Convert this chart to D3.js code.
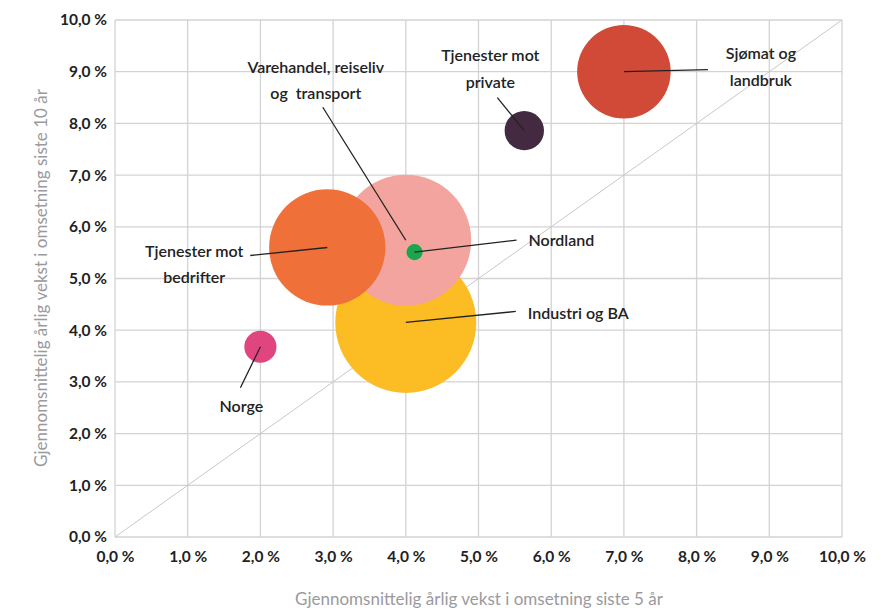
<!DOCTYPE html>
<html>
<head>
<meta charset="utf-8">
<script src="https://cdn.jsdelivr.net/npm/d3@7"></script>
<style>
  body { margin: 0; background: #fff; }
  text { font-family: Lato, "Open Sans", sans-serif; }
</style>
</head>
<body>
<script>
// bubble data
var names = ["Industri og BA", "Varehandel, reiseliv og transport", "Tjenester mot bedrifter",
             "Sjømat og landbruk", "Tjenester mot private", "Norge", "Nordland"];
var growth5 = [4.0, 4.0, 2.92, 7.0, 5.63, 2.0, 4.12];   // x, % siste 5 år
var growth10 = [4.15, 5.74, 5.6, 9.0, 7.86, 3.68, 5.51]; // y, % siste 10 år
var sizes = [100, 86, 68, 44, 7.8, 5.2, 1.3];            // omsetning, relative
var colors = ["#fbbc24", "#f4a49e", "#f0703a", "#d04a37", "#432a40", "#e0457f", "#1aa64f"];
var ticks = [0, 1, 2, 3, 4, 5, 6, 7, 8, 9, 10];

// label lines and text, offsets from bubble centre in px
var labelLines = [
  {lines: ["Industri og BA"], line: [110, -11], text: [122, -9], anchor: "start"},
  {lines: ["Varehandel, reiseliv", "og  transport"], line: [-83, -133], text: [-90, -173], anchor: "middle"},
  {lines: ["Tjenester mot", "bedrifter"], line: [-77, 8], text: [-133, 4], anchor: "middle"},
  {lines: ["Sjømat og", "landbruk"], line: [84, -2], text: [137, -18], anchor: "middle"},
  {lines: ["Tjenester mot", "private"], line: [-27, -33], text: [-34, -75], anchor: "middle"},
  {lines: ["Norge"], line: [-20, 41], text: [-19, 60], anchor: "middle"},
  {lines: ["Nordland"], line: [102, -12], text: [114, -12], anchor: "start"}
];

var W = 890, H = 611;
var margin = {top: 20, right: 48, bottom: 74, left: 115};

var svg = d3.select("body").append("svg").attr("width", W).attr("height", H);

var x = d3.scaleLinear().domain([0, 10]).range([margin.left, W - margin.right]);
var y = d3.scaleLinear().domain([0, 10]).range([H - margin.bottom, margin.top]);
var r = d3.scaleSqrt().domain([0, d3.max(sizes)]).range([0, 70.5]);

var fmt = function(d){ return d.toFixed(1).replace(".", ",") + " %"; };

// grid
var grid = svg.append("g");
grid.selectAll(".vx").data(ticks).enter().append("line")
  .attr("x1", function(d){ return x(d); }).attr("x2", function(d){ return x(d); })
  .attr("y1", y(0)).attr("y2", y(10))
  .attr("stroke", "#d3d3d6").attr("stroke-width", 1.3);
grid.selectAll(".hy").data(ticks).enter().append("line")
  .attr("y1", function(d){ return y(d); }).attr("y2", function(d){ return y(d); })
  .attr("x1", x(0)).attr("x2", x(10))
  .attr("stroke", "#d3d3d6").attr("stroke-width", 1.3);

// diagonal
svg.append("line")
  .attr("x1", x(0)).attr("y1", y(0)).attr("x2", x(10)).attr("y2", y(10))
  .attr("stroke", "#c8c8c8").attr("stroke-width", 1);

// axes (labels only)
var xAxis = svg.append("g").attr("transform", "translate(0," + y(0) + ")")
  .call(d3.axisBottom(x).tickValues(ticks).tickFormat(fmt).tickSize(0).tickPadding(14));
var yAxis = svg.append("g").attr("transform", "translate(" + x(0) + ",0)")
  .call(d3.axisLeft(y).tickValues(ticks).tickFormat(fmt).tickSize(0).tickPadding(8));
[xAxis, yAxis].forEach(function(a){
  a.select(".domain").remove();
  a.selectAll("text").attr("font-size", 15.5).attr("font-weight", 700)
    .attr("fill", "#222").style("font-family", "Lato, sans-serif");
});

// bubbles
var idx = d3.range(names.length);
svg.selectAll(".bubble").data(idx).enter().append("circle")
  .attr("cx", function(i){ return x(growth5[i]); })
  .attr("cy", function(i){ return y(growth10[i]); })
  .attr("r", function(i){ return r(sizes[i]); })
  .attr("fill", function(i){ return colors[i]; });

// leader lines
svg.selectAll(".lead").data(idx).enter().append("line")
  .attr("x1", function(i){ return x(growth5[i]); })
  .attr("y1", function(i){ return y(growth10[i]); })
  .attr("x2", function(i){ return x(growth5[i]) + labelLines[i].line[0]; })
  .attr("y2", function(i){ return y(growth10[i]) + labelLines[i].line[1]; })
  .attr("stroke", "#222").attr("stroke-width", 1.3);

// labels
idx.forEach(function(i){
  var L = labelLines[i];
  var t = svg.append("text")
    .attr("x", x(growth5[i]) + L.text[0])
    .attr("y", y(growth10[i]) + L.text[1])
    .attr("text-anchor", L.anchor)
    .attr("font-size", 16).attr("font-weight", 600).attr("fill", "#222");
  L.lines.forEach(function(s, k){
    t.append("tspan").attr("x", x(growth5[i]) + L.text[0]).attr("dy", k == 0 ? "0.35em" : "1.65em")
      .attr("xml:space", "preserve").text(s);
  });
});

// axis titles
svg.append("text").attr("x", 479).attr("y", 605).attr("text-anchor", "middle")
  .attr("font-size", 17).attr("fill", "#9a9a9e")
  .text("Gjennomsnittelig årlig vekst i omsetning siste 5 år");
svg.append("text").attr("transform", "translate(47," + 278 + ") rotate(-90)")
  .attr("text-anchor", "middle").attr("font-size", 17).attr("fill", "#9a9a9e")
  .text("Gjennomsnittelig årlig vekst i omsetning siste 10 år");
</script>
</body>
</html>
